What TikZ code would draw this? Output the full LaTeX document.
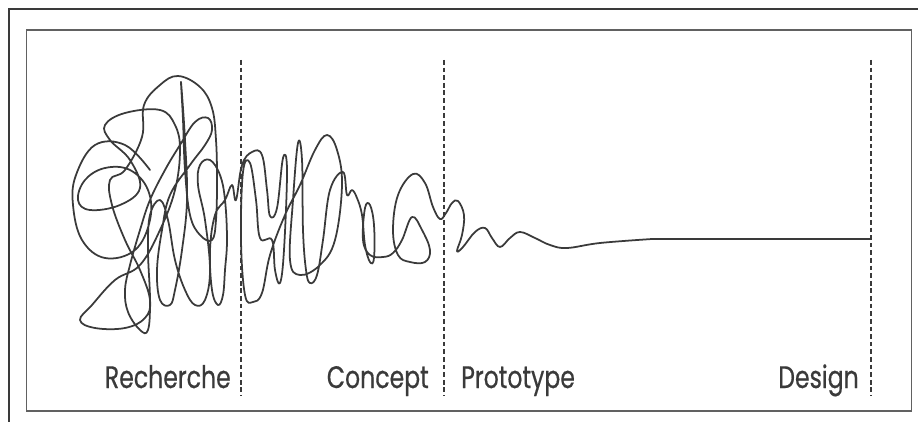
\documentclass[tikz,border=0pt]{standalone}
\usepackage{fontspec}
\setmainfont{Poppins}[FakeStretch=0.76, FakeBold=0.5]
\definecolor{ink}{HTML}{3A3A3A}

\begin{document}
\begin{tikzpicture}[x=0.03cm, y=-0.03cm,
  frame/.style={draw=ink, line width=1.4pt},
  divider/.style={draw=ink, line width=0.9pt, dash pattern=on 4pt off 2.5pt},
  squiggle/.style={draw=ink, line width=1.5pt, line join=round, line cap=round},
  phase/.style={inner sep=0pt, text=ink, font=\fontsize{26.5}{30}\selectfont}]

\useasboundingbox (0,0) rectangle (918,422);

\draw[frame] (9,422) -- (9,9) -- (918,9);
\draw[frame, draw=ink!80] (26.5,30) rectangle (911.5,411);

\foreach \x in {241,444,871}
  \draw[divider] (\x,60) -- (\x,396);

% recherche -> concept -> prototype -> design
\draw[squiggle] plot[smooth, tension=0.65] coordinates {
  (150,170) (125,145) (95,145) (76,175) (73,205) (82,240) (105,258) (135,250)
  (150,220) (148,190) (130,170) (105,168) (85,180) (78,200) (90,210) (120,205)
  (140,188) (130,160) (110,140) (105,125) (125,113) (160,110) (175,125) (180,150)
  (175,190) (160,230) (140,265) (115,280) (92,305) (80,320) (95,328) (125,328)
  (145,318) (150,300) (140,270) (125,240) (112,205) (110,180) (125,170) (142,137)
  (144,105) (160,85) (178,76) (200,87) (212,108) (216,140) (217,180) (216,220)
  (212,240) (200,235) (190,215) (185,170) (183,120) (181,82) (185,140) (187,200)
  (182,250) (175,290) (170,305) (160,300) (157,270) (162,230) (170,195) (190,165)
  (205,145) (212,130) (208,118) (195,122) (180,145) (165,170) (150,200) (140,230)
  (130,265) (125,290) (128,312) (140,330) (148,330) (150,300) (148,250) (150,215)
  (160,200) (168,220) (175,260) (185,290) (195,305) (205,300) (210,270) (205,220)
  (198,185) (200,165) (210,160) (220,175) (225,200) (227,240) (225,270) (223,295)
  (218,305) (212,290) (210,250) (215,215) (225,200) (232,185)
  (236,200) (242,165) (252,152) (262,155) (267,190) (270,216) (277,208) (283,158)
  (287,170) (284,250) (280,283) (275,270) (272,240) (260,238) (256,200) (250,163)
  (243,172) (241,240) (245,295) (253,302) (262,293) (270,255) (285,215) (300,185)
  (315,150) (327,135) (337,150) (342,185) (335,240) (320,265) (300,275) (290,260)
  (293,200) (298,143) (302,160) (303,230) (306,270) (310,283) (317,275) (323,240)
  (330,190) (343,172) (347,195) (352,190) (357,198) (362,215) (365,245) (370,262)
  (374,258) (374,225) (370,205) (365,208) (363,240) (370,255) (383,257) (393,253)
  (402,240) (412,217) (422,230) (430,250) (425,262) (410,262) (398,255) (393,230)
  (398,195) (413,174) (425,183) (433,207) (440,219) (446,213) (452,203) (458,201)
  (464,215) (462,235) (457,251) (463,247) (475,232) (485,228) (492,238) (500,247)
  (510,238) (520,232) (535,238) (550,245) (567,248) (600,243) (652,239)}
  -- (871,239);

\node[phase, anchor=base east] (recherche) at (231,388) {Recherche};
\node[phase, anchor=base east] (concept)   at (429,388) {Concept};
\node[phase, anchor=base west] (prototype) at (461,388) {Prototype};
\node[phase, anchor=base east] (design)    at (859,388) {Design};
\end{tikzpicture}
\end{document}
